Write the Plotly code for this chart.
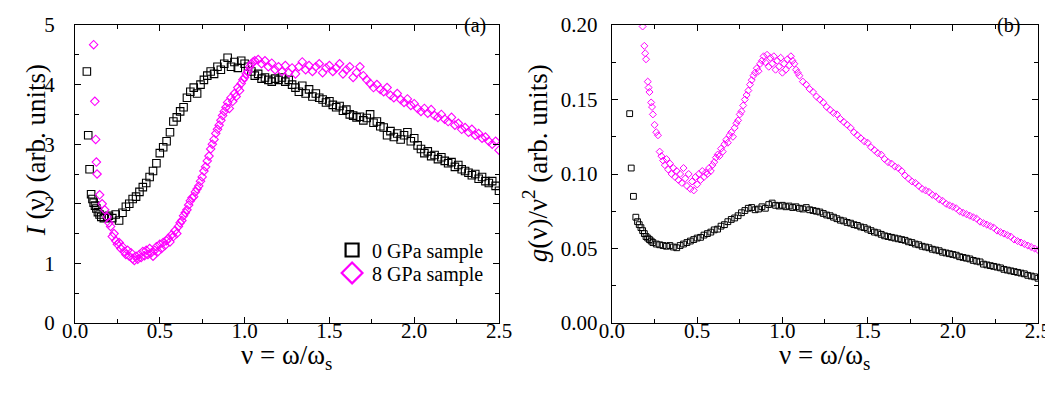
import plotly.graph_objects as go

# ---------------- data ----------------
# Panel (a): I(nu), 0 GPa sample
a0_x = [0.07, 0.078, 0.086, 0.095, 0.103, 0.11, 0.118, 0.126, 0.135, 0.145, 0.155, 0.17, 0.19,
        0.20, 0.22, 0.24, 0.26, 0.28, 0.30, 0.32, 0.34, 0.36, 0.38, 0.40, 0.42, 0.44, 0.46, 0.48,
        0.50, 0.52, 0.54, 0.56, 0.58, 0.60, 0.62, 0.64, 0.66, 0.68, 0.70, 0.72, 0.74, 0.76, 0.78,
        0.80, 0.82, 0.84, 0.86, 0.88, 0.90, 0.92, 0.94, 0.96, 0.98, 1.00, 1.02, 1.04, 1.06, 1.08,
        1.10, 1.12, 1.14, 1.16, 1.18, 1.20, 1.22, 1.24, 1.26, 1.28, 1.30, 1.32, 1.34, 1.36, 1.38,
        1.40, 1.42, 1.44, 1.46, 1.48, 1.50, 1.52, 1.54, 1.56, 1.58, 1.60, 1.62, 1.64, 1.66, 1.68,
        1.70, 1.72, 1.74, 1.76, 1.78, 1.80, 1.82, 1.84, 1.86, 1.88, 1.90, 1.92, 1.94, 1.96, 1.98,
        2.00, 2.02, 2.04, 2.06, 2.08, 2.10, 2.12, 2.14, 2.16, 2.18, 2.20, 2.22, 2.24, 2.26, 2.28,
        2.30, 2.32, 2.34, 2.36, 2.38, 2.40, 2.42, 2.44, 2.46, 2.48, 2.50]
a0_y = [4.22, 3.15, 2.58, 2.16, 2.08, 2.02, 1.97, 1.92, 1.86, 1.82, 1.78, 1.76, 1.78,
        1.80, 1.76, 1.82, 1.72, 1.85, 1.95, 2.00, 2.08, 2.12, 2.20, 2.28, 2.35, 2.45, 2.55, 2.68,
        2.85, 2.95, 3.05, 3.20, 3.38, 3.45, 3.55, 3.62, 3.78, 3.88, 3.95, 3.85, 4.00, 4.08, 4.15,
        4.22, 4.18, 4.30, 4.25, 4.35, 4.45, 4.30, 4.38, 4.28, 4.40, 4.35, 4.30, 4.22, 4.15, 4.18,
        4.10, 4.12, 4.08, 4.05, 4.10, 4.08, 4.12, 4.05, 4.08, 4.00, 3.95, 3.88, 3.98, 3.85, 3.92,
        3.80, 3.85, 3.78, 3.75, 3.70, 3.72, 3.66, 3.62, 3.64, 3.56, 3.58, 3.50, 3.48, 3.45, 3.46,
        3.40, 3.44, 3.50, 3.36, 3.38, 3.30, 3.28, 3.15, 3.22, 3.12, 3.18, 3.08, 3.15, 3.20, 3.05,
        3.10, 2.98, 2.92, 2.85, 2.88, 2.80, 2.82, 2.75, 2.78, 2.72, 2.68, 2.70, 2.62, 2.65, 2.58,
        2.55, 2.52, 2.48, 2.50, 2.42, 2.45, 2.38, 2.35, 2.38, 2.30, 2.22]

# Panel (a): I(nu), 8 GPa sample
a8_x = [0.11, 0.117, 0.122, 0.126, 0.13, 0.145, 0.16, 0.175, 0.19, 0.20, 0.21, 0.22, 0.23, 0.24,
        0.25, 0.26, 0.27, 0.28, 0.29, 0.30, 0.31, 0.32, 0.33, 0.34, 0.35, 0.36, 0.37, 0.38, 0.39,
        0.40, 0.41, 0.42, 0.43, 0.44, 0.45, 0.46, 0.47, 0.48, 0.49, 0.50, 0.51, 0.52, 0.53, 0.54,
        0.55, 0.56, 0.57, 0.58, 0.59, 0.60, 0.61, 0.62, 0.63, 0.64, 0.65, 0.66, 0.67, 0.68, 0.69,
        0.70, 0.71, 0.72, 0.73, 0.74, 0.75, 0.76, 0.77, 0.78, 0.79, 0.80, 0.81, 0.82, 0.83, 0.84,
        0.85, 0.86, 0.87, 0.88, 0.89, 0.90, 0.91, 0.92, 0.93, 0.94, 0.95, 0.96, 0.97, 0.98, 0.99,
        1.00, 1.01, 1.02, 1.03, 1.04, 1.05, 1.06, 1.08, 1.10, 1.12, 1.14, 1.16, 1.18, 1.20, 1.22,
        1.24, 1.26, 1.28, 1.30, 1.32, 1.34, 1.36, 1.38, 1.40, 1.42, 1.44, 1.46, 1.48, 1.50, 1.52,
        1.54, 1.56, 1.58, 1.60, 1.62, 1.64, 1.66, 1.68, 1.70, 1.72, 1.74, 1.76, 1.78, 1.80, 1.82,
        1.84, 1.86, 1.88, 1.90, 1.92, 1.94, 1.96, 1.98, 2.00, 2.02, 2.04, 2.06, 2.08, 2.10, 2.12,
        2.14, 2.16, 2.18, 2.20, 2.22, 2.24, 2.26, 2.28, 2.30, 2.32, 2.34, 2.36, 2.38, 2.40, 2.42,
        2.44, 2.46, 2.48, 2.50]
a8_y = [4.67, 3.72, 3.08, 2.70, 2.50, 2.15, 2.00, 1.90, 1.78, 1.68, 1.62, 1.45, 1.50, 1.38,
        1.32, 1.35, 1.25, 1.28, 1.20, 1.15, 1.22, 1.12, 1.18, 1.08, 1.05, 1.12, 1.07, 1.15, 1.10,
        1.20, 1.13, 1.22, 1.15, 1.25, 1.18, 1.12, 1.22, 1.28, 1.20, 1.32, 1.25, 1.35, 1.30, 1.38,
        1.42, 1.36, 1.48, 1.45, 1.55, 1.50, 1.62, 1.68, 1.72, 1.80, 1.85, 1.90, 1.98, 2.05, 2.10,
        2.12, 2.20, 2.25, 2.30, 2.38, 2.45, 2.55, 2.62, 2.72, 2.80, 2.92, 3.00, 3.08, 3.18, 3.25,
        3.32, 3.40, 3.48, 3.55, 3.62, 3.70, 3.60, 3.78, 3.72, 3.85, 3.80, 3.95, 3.90, 4.02, 4.08,
        4.12, 4.18, 4.22, 4.30, 4.35, 4.38, 4.40, 4.42, 4.35, 4.40, 4.30, 4.36, 4.25, 4.30, 4.22,
        4.32, 4.20, 4.28, 4.18, 4.30, 4.38, 4.25, 4.32, 4.22, 4.30, 4.35, 4.20, 4.28, 4.32, 4.22,
        4.28, 4.35, 4.18, 4.25, 4.30, 4.12, 4.20, 4.30, 4.15, 4.08, 4.02, 3.95, 4.00, 3.92, 3.88,
        3.95, 3.82, 3.78, 3.85, 3.75, 3.70, 3.76, 3.65, 3.68, 3.60, 3.55, 3.60, 3.52, 3.58, 3.48,
        3.45, 3.50, 3.42, 3.38, 3.45, 3.32, 3.35, 3.25, 3.28, 3.20, 3.25, 3.15, 3.18, 3.10, 3.12,
        3.05, 3.00, 3.05, 2.90]

# Panel (b): g(nu)/nu^2, 0 GPa sample
b0_x = [0.104, 0.113, 0.126, 0.14, 0.15, 0.16, 0.17, 0.18, 0.19, 0.20, 0.21, 0.22, 0.23, 0.24,
        0.26, 0.28, 0.30, 0.32, 0.34, 0.36, 0.38, 0.40, 0.42, 0.44, 0.46, 0.48, 0.50, 0.52, 0.54,
        0.56, 0.58, 0.60, 0.62, 0.64, 0.66, 0.68, 0.70, 0.72, 0.74, 0.76, 0.78, 0.80, 0.82, 0.84,
        0.86, 0.88, 0.90, 0.92, 0.94, 0.96, 0.98, 1.00, 1.02, 1.04, 1.06, 1.08, 1.10, 1.12, 1.14,
        1.16, 1.18, 1.20, 1.22, 1.24, 1.26, 1.28, 1.30, 1.32, 1.34, 1.36, 1.38, 1.40, 1.42, 1.44,
        1.46, 1.48, 1.50, 1.52, 1.54, 1.56, 1.58, 1.60, 1.62, 1.64, 1.66, 1.68, 1.70, 1.72, 1.74,
        1.76, 1.78, 1.80, 1.82, 1.84, 1.86, 1.88, 1.90, 1.92, 1.94, 1.96, 1.98, 2.00, 2.02, 2.04,
        2.06, 2.08, 2.10, 2.12, 2.14, 2.16, 2.18, 2.20, 2.22, 2.24, 2.26, 2.28, 2.30, 2.32, 2.34,
        2.36, 2.38, 2.40, 2.42, 2.44, 2.46, 2.48, 2.50]
b0_y = [0.1405, 0.104, 0.085, 0.071, 0.068, 0.066, 0.064, 0.062, 0.060, 0.058, 0.057, 0.056,
        0.055, 0.054, 0.053, 0.0525, 0.052, 0.0515, 0.052, 0.051, 0.0505, 0.052, 0.053, 0.054,
        0.055, 0.056, 0.057, 0.0575, 0.059, 0.060, 0.061, 0.0625, 0.063, 0.065, 0.066, 0.068,
        0.0695, 0.0705, 0.072, 0.074, 0.0755, 0.077, 0.0775, 0.076, 0.0765, 0.078, 0.077, 0.0795,
        0.0805, 0.079, 0.0785, 0.079, 0.078, 0.0785, 0.0775, 0.078, 0.077, 0.0765, 0.0775, 0.076,
        0.0755, 0.075, 0.0745, 0.0735, 0.0725, 0.072, 0.071, 0.070, 0.069, 0.0685, 0.0675, 0.067,
        0.066, 0.0655, 0.0645, 0.064, 0.063, 0.062, 0.061, 0.0605, 0.0595, 0.0585, 0.058, 0.0575,
        0.057, 0.0565, 0.056, 0.0555, 0.0545, 0.054, 0.053, 0.0525, 0.0515, 0.051, 0.0505, 0.0495,
        0.049, 0.0485, 0.0475, 0.047, 0.0465, 0.046, 0.0455, 0.0445, 0.044, 0.0435, 0.043, 0.042,
        0.0415, 0.041, 0.0395, 0.039, 0.0385, 0.038, 0.0375, 0.037, 0.036, 0.0355, 0.035, 0.0345,
        0.034, 0.0335, 0.033, 0.032, 0.0315, 0.031, 0.030]

# Panel (b): g(nu)/nu^2, 8 GPa sample
b8_x = [0.18, 0.19, 0.195, 0.20, 0.21, 0.215, 0.22, 0.23, 0.235, 0.24, 0.25, 0.26, 0.27, 0.28,
        0.29, 0.30, 0.31, 0.32, 0.33, 0.34, 0.35, 0.36, 0.37, 0.38, 0.39, 0.40, 0.41, 0.42, 0.43,
        0.44, 0.45, 0.46, 0.47, 0.48, 0.49, 0.50, 0.51, 0.52, 0.53, 0.54, 0.55, 0.56, 0.57, 0.58,
        0.59, 0.60, 0.61, 0.62, 0.63, 0.64, 0.65, 0.66, 0.67, 0.68, 0.69, 0.70, 0.71, 0.72, 0.73,
        0.74, 0.75, 0.76, 0.77, 0.78, 0.79, 0.80, 0.81, 0.82, 0.83, 0.84, 0.85, 0.86, 0.87, 0.88,
        0.89, 0.90, 0.91, 0.92, 0.93, 0.94, 0.95, 0.96, 0.97, 0.98, 0.99, 1.00, 1.01, 1.02, 1.03,
        1.04, 1.05, 1.06, 1.07, 1.08, 1.09, 1.10, 1.12, 1.14, 1.16, 1.18, 1.20, 1.22, 1.24, 1.26,
        1.28, 1.30, 1.32, 1.34, 1.36, 1.38, 1.40, 1.42, 1.44, 1.46, 1.48, 1.50, 1.52, 1.54, 1.56,
        1.58, 1.60, 1.62, 1.64, 1.66, 1.68, 1.70, 1.72, 1.74, 1.76, 1.78, 1.80, 1.82, 1.84, 1.86,
        1.88, 1.90, 1.92, 1.94, 1.96, 1.98, 2.00, 2.02, 2.04, 2.06, 2.08, 2.10, 2.12, 2.14, 2.16,
        2.18, 2.20, 2.22, 2.24, 2.26, 2.28, 2.30, 2.32, 2.34, 2.36, 2.38, 2.40, 2.42, 2.44, 2.46,
        2.48, 2.50]
b8_y = [0.199, 0.186, 0.181, 0.177, 0.162, 0.158, 0.155, 0.148, 0.145, 0.140, 0.133, 0.128,
        0.126, 0.115, 0.112, 0.109, 0.106, 0.110, 0.103, 0.107, 0.100, 0.104, 0.098, 0.102,
        0.096, 0.100, 0.094, 0.104, 0.097, 0.092, 0.100, 0.090, 0.095, 0.089, 0.098, 0.093,
        0.100, 0.096, 0.102, 0.098, 0.101, 0.100, 0.104, 0.102, 0.106, 0.108, 0.111, 0.113,
        0.112, 0.117, 0.115, 0.120, 0.123, 0.121, 0.126, 0.128, 0.125, 0.131, 0.134, 0.136,
        0.140, 0.142, 0.146, 0.150, 0.153, 0.156, 0.160, 0.163, 0.166, 0.168, 0.171, 0.169,
        0.174, 0.176, 0.179, 0.175, 0.180, 0.172, 0.178, 0.174, 0.179, 0.170, 0.176, 0.172,
        0.178, 0.168, 0.174, 0.170, 0.177, 0.173, 0.179, 0.176, 0.174, 0.170, 0.168, 0.166,
        0.162, 0.160, 0.157, 0.155, 0.152, 0.150, 0.148, 0.145, 0.143, 0.141, 0.140, 0.137,
        0.135, 0.133, 0.131, 0.128, 0.126, 0.124, 0.122, 0.121, 0.118, 0.116, 0.114, 0.113,
        0.110, 0.108, 0.107, 0.105, 0.104, 0.102, 0.099, 0.097, 0.095, 0.094, 0.092, 0.090,
        0.089, 0.088, 0.086, 0.085, 0.083, 0.082, 0.080, 0.079, 0.078, 0.077, 0.075, 0.074,
        0.073, 0.072, 0.071, 0.070, 0.068, 0.067, 0.066, 0.065, 0.064, 0.062, 0.061, 0.060,
        0.059, 0.058, 0.056, 0.055, 0.054, 0.053, 0.052, 0.051, 0.050, 0.049, 0.047]

series_names = ["0 GPa sample", "8 GPa sample"]
x_ticks = [0.0, 0.5, 1.0, 1.5, 2.0, 2.5]
x_ticklabels = ["0.0", "0.5", "1.0", "1.5", "2.0", "2.5"]

# ---------------- styling ----------------
FONT = "Liberation Serif"
BLACK = "#000000"
MAGENTA = "#ff00ff"

fig = go.Figure()

def add(x, y, xa, ya, symbol, color, size, lw):
    fig.add_trace(go.Scatter(
        x=x, y=y, xaxis=xa, yaxis=ya, mode="markers", showlegend=False,
        marker=dict(symbol=symbol, size=size, color=color,
                    line=dict(color=color, width=lw)),
        hoverinfo="skip"))

add(a0_x, a0_y, "x", "y", "square-open", BLACK, 7.5, 1.1)
add(a8_x, a8_y, "x", "y", "diamond-open", MAGENTA, 6.5, 1.1)
add(b0_x, b0_y, "x2", "y2", "square-open", BLACK, 5.8, 1.0)
add(b8_x, b8_y, "x2", "y2", "diamond-open", MAGENTA, 5.4, 1.0)

# legend-only entries (larger symbols, as in the reference legend), one legend each
fig.add_trace(go.Scatter(x=[None], y=[None], xaxis="x", yaxis="y", mode="markers",
                         name=series_names[0], legend="legend",
                         marker=dict(symbol="square-open", size=13, color=BLACK,
                                     line=dict(color=BLACK, width=2.2))))
fig.add_trace(go.Scatter(x=[None], y=[None], xaxis="x", yaxis="y", mode="markers",
                         name=series_names[1], legend="legend2",
                         marker=dict(symbol="diamond-open", size=16, color=MAGENTA,
                                     line=dict(color=MAGENTA, width=2.2))))

def xaxis_style(domain, anchor):
    return dict(domain=domain, anchor=anchor, range=[0, 2.5],
                tickmode="array", tickvals=x_ticks, ticktext=x_ticklabels,
                ticks="inside", ticklen=6, tickwidth=1.2, tickcolor=BLACK,
                minor=dict(ticks="inside", ticklen=3.5, tickwidth=1.1, dtick=0.25,
                           tick0=0, tickcolor=BLACK),
                showline=True, linecolor=BLACK, linewidth=1.3, mirror="ticks",
                showgrid=False, zeroline=False, automargin=False,
                tickfont=dict(family=FONT, size=21, color=BLACK),
                ticklabelstandoff=-11)

def yaxis_style(anchor, rng, dtick, minor_dtick, fmt, standoff):
    return dict(domain=[0, 1], anchor=anchor, range=rng, dtick=dtick, tick0=0,
                tickformat=fmt,
                ticks="inside", ticklen=6, tickwidth=1.2, tickcolor=BLACK,
                minor=dict(ticks="inside", ticklen=3.5, tickwidth=1.1, dtick=minor_dtick,
                           tick0=0, tickcolor=BLACK),
                showline=True, linecolor=BLACK, linewidth=1.3, mirror="ticks",
                showgrid=False, zeroline=False, automargin=False,
                tickfont=dict(family=FONT, size=21, color=BLACK),
                ticklabelstandoff=standoff)

legend_common = dict(x=0.43, xanchor="right", yanchor="middle",
                     bgcolor="rgba(0,0,0,0)", borderwidth=0,
                     font=dict(family=FONT, size=20, color=BLACK),
                     itemsizing="trace")

fig.update_layout(
    width=1053, height=394,
    margin=dict(l=67, r=23, t=17, b=79),
    paper_bgcolor="white", plot_bgcolor="white",
    template="none",
    font=dict(family=FONT, size=20, color=BLACK),
    xaxis=xaxis_style([0, 0.4403], "y"),
    yaxis=yaxis_style("x", [0, 5], 1, 0.5, "d", 15),
    xaxis2=xaxis_style([0.5576, 1], "y2"),
    yaxis2=dict(yaxis_style("x2", [0, 0.2], 0.05, 0.025, ".2f", 9)),
    legend=dict(legend_common, y=0.245),
    legend2=dict(legend_common, y=0.168),
    annotations=[
        dict(text="<i>I</i> (ν) (arb. units)", xref="paper", yref="paper",
             x=-0.0405, y=0.58, xanchor="center", yanchor="middle", textangle=-90,
             showarrow=False, font=dict(family=FONT, size=27, color=BLACK)),
        dict(text="<i>g</i>(ν)/ν<sup>2</sup> (arb. units)", xref="paper", yref="paper",
             x=0.478, y=0.537, xanchor="center", yanchor="middle", textangle=-90,
             showarrow=False, font=dict(family=FONT, size=27, color=BLACK)),
        dict(text="ν = ω/ω<sub>s</sub>", xref="paper", yref="paper",
             x=0.2201, y=-0.113, xanchor="center", yanchor="middle",
             showarrow=False, font=dict(family=FONT, size=27, color=BLACK)),
        dict(text="ν = ω/ω<sub>s</sub>", xref="paper", yref="paper",
             x=0.7788, y=-0.113, xanchor="center", yanchor="middle",
             showarrow=False, font=dict(family=FONT, size=27, color=BLACK)),
        dict(text="(a)", xref="paper", yref="paper", x=0.4155, y=0.998,
             xanchor="center", yanchor="middle", showarrow=False,
             font=dict(family=FONT, size=20, color=BLACK)),
        dict(text="(b)", xref="paper", yref="paper", x=0.969, y=0.998,
             xanchor="center", yanchor="middle", showarrow=False,
             font=dict(family=FONT, size=20, color=BLACK)),
    ],
)

fig.write_html("out.html")
